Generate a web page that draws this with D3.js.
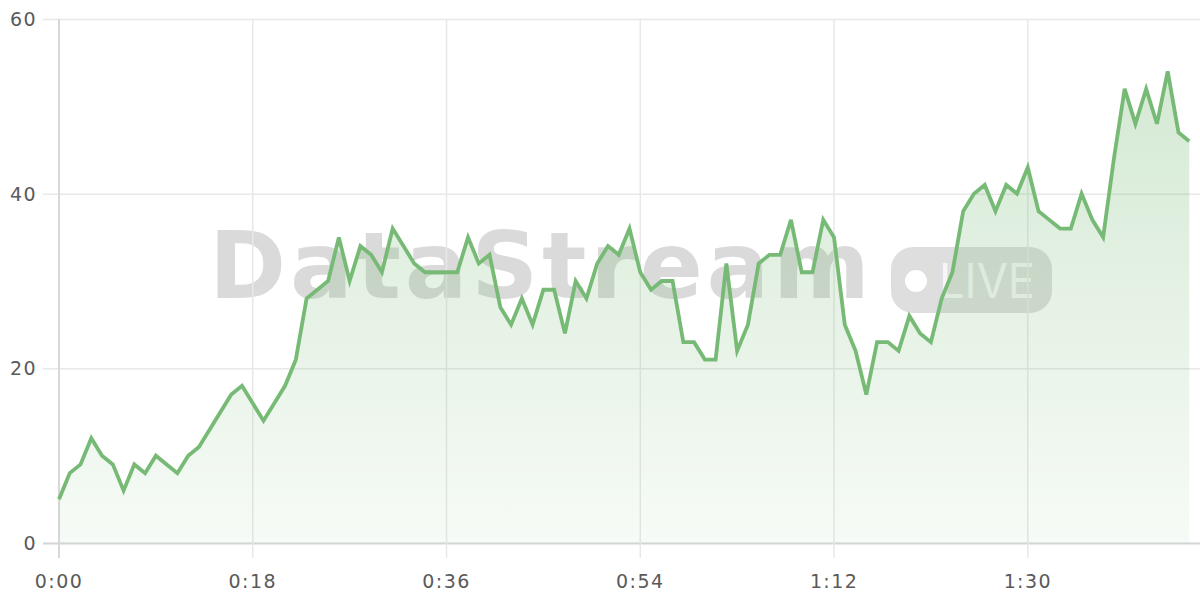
<!DOCTYPE html>
<html>
<head>
<meta charset="utf-8">
<script src="https://cdn.jsdelivr.net/npm/d3@7/dist/d3.min.js"></script>
<style>
  html, body { margin: 0; padding: 0; background: #ffffff; }
  svg { display: block; }
</style>
</head>
<body>
<svg id="chart" width="1200" height="600"></svg>
<script>
// ---- data (one value per second, starting at 0:00) ----
const values = [
  5, 8, 9, 12, 10, 9, 6, 9, 8, 10,
  9, 8, 10, 11, 13, 15, 17, 18, 16, 14,
  16, 18, 21, 28, 29, 30, 35, 30, 34, 33,
  31, 36, 34, 32, 31, 31, 31, 31, 35, 32,
  33, 27, 25, 28, 25, 29, 29, 24, 30, 28,
  32, 34, 33, 36, 31, 29, 30, 30, 23, 23,
  21, 21, 32, 22, 25, 32, 33, 33, 37, 31,
  31, 37, 35, 25, 22, 17, 23, 23, 22, 26,
  24, 23, 28, 31, 38, 40, 41, 38, 41, 40,
  43, 38, 37, 36, 36, 40, 37, 35, 44, 52,
  48, 52, 48, 54, 47, 46
];
const xTickValues = [0, 18, 36, 54, 72, 90];
const xTickLabels = ["0:00", "0:18", "0:36", "0:54", "1:12", "1:30"];
const yTickValues = [0, 20, 40, 60];
const watermarkText = "DataStream";
const badgeText = "LIVE";

(function () {
// ---- layout ----
const svg = d3.select("#chart");
const pLeft = 59, pRight = 1200, pTop = 19, pBottom = 543;

const x = d3.scaleLinear().domain([0, 106]).range([pLeft, pRight]);
const y = d3.scaleLinear().domain([0, 60]).range([pBottom, pTop]);

const defs = svg.append("defs");
const grad = defs.append("linearGradient")
  .attr("id", "areaGrad")
  .attr("gradientUnits", "userSpaceOnUse")
  .attr("x1", 0).attr("x2", 0)
  .attr("y1", y(60)).attr("y2", y(0));
grad.append("stop").attr("offset", "0%").attr("stop-color", "rgb(118,185,116)").attr("stop-opacity", 0.34);
grad.append("stop").attr("offset", "100%").attr("stop-color", "rgb(118,185,116)").attr("stop-opacity", 0.06);

// ---- watermark ----
const wm = svg.append("g").attr("class", "watermark");
wm.append("text")
  .attr("x", 209).attr("y", 298)
  .attr("font-family", "'DejaVu Sans', sans-serif")
  .attr("font-weight", 700)
  .attr("font-size", 93)
  .attr("textLength", 661)
  .attr("lengthAdjust", "spacing")
  .attr("fill", "rgba(0,0,0,0.145)")
  .text(watermarkText);
wm.append("rect")
  .attr("x", 891).attr("y", 247).attr("width", 161).attr("height", 66)
  .attr("rx", 22).attr("ry", 22)
  .attr("fill", "rgba(0,0,0,0.13)");
wm.append("circle")
  .attr("cx", 916).attr("cy", 281).attr("r", 11)
  .attr("fill", "#ffffff");
wm.append("text")
  .attr("x", 939).attr("y", 298)
  .attr("font-family", "Inter, 'Liberation Sans', sans-serif")
  .attr("font-weight", 400)
  .attr("font-size", 48)
  .attr("textLength", 96)
  .attr("lengthAdjust", "spacingAndGlyphs")
  .attr("fill", "rgba(255,255,255,0.78)")
  .text(badgeText);

// ---- grid ----
const grid = svg.append("g").attr("class", "grid");
grid.selectAll("line.h").data(yTickValues).enter().append("line")
  .attr("class", "h")
  .attr("x1", 43).attr("x2", pRight)
  .attr("y1", d => y(d) + 0.5).attr("y2", d => y(d) + 0.5)
  .attr("stroke", d => d === 0 ? "#d4d4d4" : "#e8e8e8")
  .attr("stroke-width", d => d === 0 ? 2 : 1.5);
grid.selectAll("line.v").data(xTickValues).enter().append("line")
  .attr("class", "v")
  .attr("x1", d => x(d)).attr("x2", d => x(d))
  .attr("y1", pTop).attr("y2", 558)
  .attr("stroke", d => d === 0 ? "#d8d8d8" : "#e8e8e8")
  .attr("stroke-width", d => d === 0 ? 2 : 1.5);

// ---- area + line ----
const area = d3.area()
  .x((d, i) => x(i))
  .y0(y(0))
  .y1(d => y(d));
const line = d3.line()
  .x((d, i) => x(i))
  .y(d => y(d));

svg.append("path")
  .datum(values)
  .attr("d", area)
  .attr("fill", "url(#areaGrad)");

svg.append("path")
  .datum(values)
  .attr("d", line)
  .attr("fill", "none")
  .attr("stroke", "#77ba76")
  .attr("stroke-width", 3.8)
  .attr("stroke-linejoin", "miter")
  .attr("stroke-linecap", "butt");

// ---- axes labels ----
const labelFont = "'DejaVu Sans', 'Open Sans', sans-serif";
svg.append("g").selectAll("text").data(yTickValues).enter().append("text")
  .attr("x", 37)
  .attr("y", d => y(d) + 7)
  .attr("text-anchor", "end")
  .attr("font-family", labelFont)
  .attr("font-size", 19)
  .attr("letter-spacing", 1.4)
  .attr("fill", "#5a5a5a")
  .text(d => d);

svg.append("g").selectAll("text").data(xTickValues).enter().append("text")
  .attr("x", d => x(d))
  .attr("y", 588)
  .attr("text-anchor", "middle")
  .attr("font-family", labelFont)
  .attr("font-size", 19)
  .attr("letter-spacing", 1.4)
  .attr("fill", "#5a5a5a")
  .text((d, i) => xTickLabels[i]);
})();
</script>
</body>
</html>
